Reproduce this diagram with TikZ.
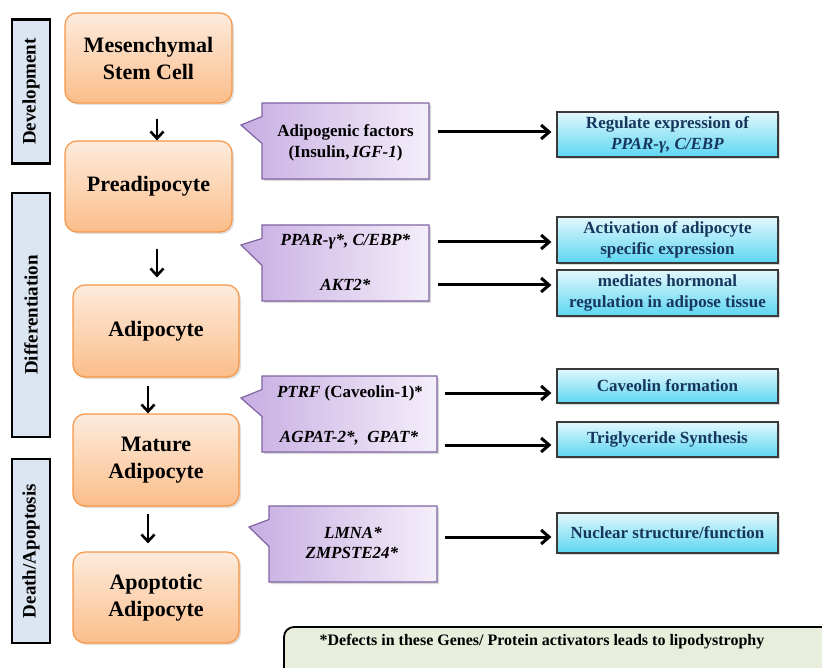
\documentclass[tikz,border=0pt]{standalone}
\usepackage{fontspec}
\setmainfont{Liberation Serif}
\usetikzlibrary{shapes.callouts,shadows,arrows.meta,calc}
\definecolor{orBorder}{HTML}{F79646}
\definecolor{orTop}{HTML}{FDEBDD}
\definecolor{orBot}{HTML}{FBBE8A}
\definecolor{puBorder}{HTML}{8064A2}
\definecolor{puLeft}{HTML}{C7AEE2}
\definecolor{puRight}{HTML}{F4EEFA}
\definecolor{blTop}{HTML}{E2F8FD}
\definecolor{blBot}{HTML}{5CD6F1}
\definecolor{blBorder}{HTML}{3A3A3A}
\definecolor{blText}{HTML}{17365D}
\definecolor{phFill}{HTML}{DCE6F2}
\definecolor{fnFill}{HTML}{E8EEDC}
\begin{document}
\begin{tikzpicture}[x=1pt,y=-1pt,
  cell/.style={draw=orBorder, line width=1.2pt, rounded corners=12pt,
    top color=orTop, bottom color=orBot, minimum width=166pt, minimum height=91pt,
    align=center, font=\bfseries\fontsize{22}{27}\selectfont,
    drop shadow={shadow xshift=2pt,shadow yshift=-2pt,opacity=0.25}},
  phase/.style={draw=black, line width=2.4pt, fill=phFill, rotate=90,
    minimum height=38pt, inner sep=0pt, font=\bfseries\fontsize{19}{22}\selectfont},
  callbox/.style={rectangle callout, draw=puBorder, line width=1.2pt,
    left color=puLeft, right color=puRight, callout pointer width=27pt,
    minimum height=76pt, inner sep=0pt,
    drop shadow={shadow xshift=2pt,shadow yshift=-2pt,opacity=0.3}},
  gene/.style={font=\bfseries\fontsize{17}{21}\selectfont, inner sep=0pt, align=center},
  effect/.style={draw=blBorder, line width=1.2pt, top color=blTop, bottom color=blBot,
    minimum width=221pt, align=center, text=blText, inner sep=0pt,
    font=\bfseries\fontsize{17}{21}\selectfont,
    drop shadow={shadow xshift=2pt,shadow yshift=-2pt,opacity=0.3}},
  varrow/.style={line width=2.6pt, -{Straight Barb[length=7pt,width=13pt]}},
  harrow/.style={line width=3pt, -{Straight Barb[length=8pt,width=14pt]}, shorten >=5pt}
]
\clip (0,0) rectangle (822,668);

% phase bars
\node[phase, minimum width=144pt] (s1) at (31,91.5) {Development};
\node[phase, minimum width=244pt] (s2) at (31,315) {Differentiation};
\node[phase, minimum width=184pt] (s3) at (31,551) {Death/Apoptosis};

% cell stages
\node[cell, minimum width=167pt, minimum height=90pt] (a) at (148.5,58) {Mesenchymal\\Stem Cell};
\node[cell, minimum width=167pt] (b) at (148.5,186.5) {Preadipocyte};
\node[cell, minimum height=92pt] (c) at (156,331) {Adipocyte};
\node[cell, minimum height=92pt] (d) at (156,460) {Mature\\Adipocyte};
\node[cell] (e) at (156,597.5) {Apoptotic\\Adipocyte};

\draw[varrow, shorten <=15pt] ([xshift=8.5pt]a.south) -- ([xshift=8.5pt]a.south |- b.north);
\draw[varrow, shorten <=16pt, shorten >=7pt] ([xshift=8.5pt]b.south) -- ([xshift=1pt]c.north);
\draw[varrow, shorten <=8pt] ([xshift=-8pt]c.south) -- ([xshift=-8pt]d.north);
\draw[varrow, shorten <=7pt, shorten >=8pt] ([xshift=-8pt]d.south) -- ([xshift=-8pt]e.north);

% callouts
\node[callbox, minimum width=167pt, callout absolute pointer={(241,125)}] (c1) at (345.5,141) {};
\node[callbox, minimum width=167pt, callout absolute pointer={(241,245)}] (c2) at (345.5,263) {};
\node[callbox, minimum width=175pt, callout absolute pointer={(241,398)}] (c3) at (349.5,414) {};
\node[callbox, minimum width=168pt, callout absolute pointer={(249,527)}] (c4) at (353,544) {};

\node[gene] (t1a) at (345.5,132) {Adipogenic factors};
\node[gene] (t1b) at (345.5,153) {(Insulin,\,\textit{IGF-1})};
\node[gene] (t2a) at (345.5,242) {\textit{PPAR-γ*, C/EBP*}};
\node[gene] (t2b) at (345.5,285) {\textit{AKT2*}};
\node[gene] (t3a) at (350,393) {\textit{PTRF} (Caveolin-1)*};
\node[gene] (t3b) at (349,438) {\textit{AGPAT-2*,~ GPAT*}};
\node[gene] (t4a) at (353,533) {\textit{LMNA*}};
\node[gene] (t4b) at (352,553) {\textit{ZMPSTE24*}};

% effects
\node[effect, minimum height=45pt] (b1) at (667.5,134.5) {Regulate expression of\\\textit{PPAR-γ, C/EBP}};
\node[effect, minimum height=46pt] (b2) at (667.5,240) {Activation of adipocyte\\specific expression};
\node[effect, minimum height=46pt] (b3) at (667.5,293) {mediates hormonal\\regulation in adipose tissue};
\node[effect, minimum height=34pt] (b4) at (667.5,386) {Caveolin formation};
\node[effect, minimum height=35pt] (b5) at (667.5,439.5) {Triglyceride Synthesis};
\node[effect, minimum height=40pt] (b6) at (667.5,533) {Nuclear structure/function};

\draw[harrow] ([xshift=8pt]c1.east |- t1a) -- (b1.west |- t1a);
\draw[harrow] ([xshift=8pt]c2.east |- t2a) -- (b2.west |- t2a);
\draw[harrow] ([xshift=8pt]c2.east |- t2b) -- (b3.west |- t2b);
\draw[harrow] ([xshift=7pt]c3.east |- t3a) -- (b4.west |- t3a);
\draw[harrow] ([xshift=7pt,yshift=-7pt]c3.east |- t3b) -- ([yshift=-7pt]b5.west |- t3b);
\draw[harrow] ([xshift=7pt,yshift=-4pt]c4.east |- t4a) -- ([yshift=-4pt]b6.west |- t4a);

% footnote
\node[draw=black, line width=1.8pt, rounded corners=10pt, fill=fnFill,
  minimum width=556pt, minimum height=63pt] (fn) at (562,658.5) {};
\node[font=\bfseries\fontsize{16}{19}\selectfont, inner sep=0pt] (fnt) at (542,642)
  {*Defects in these Genes/ Protein activators leads to lipodystrophy};
\end{tikzpicture}
\end{document}
